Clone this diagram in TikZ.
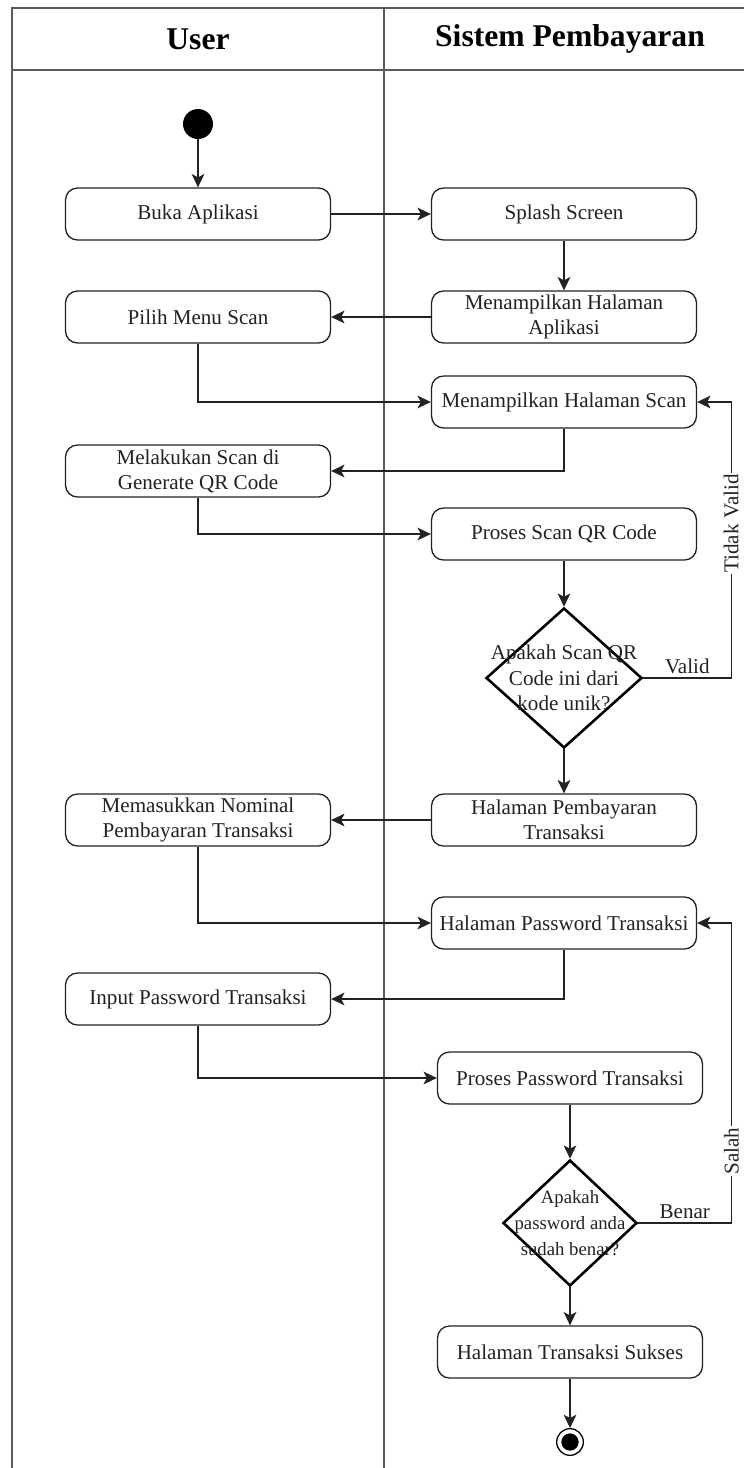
\documentclass[tikz,border=0pt]{standalone}
\usepackage{fontspec}
\setmainfont{Liberation Serif}
\usepackage{xcolor}
\usepackage{tikz}
\usetikzlibrary{arrows.meta,positioning,shapes.geometric}
\definecolor{ink}{HTML}{222222}
\definecolor{lanegray}{HTML}{5A5A5A}
\newcommand{\txt}{\fontsize{18}{21.5}\selectfont}
\tikzset{
  act/.style   = {rounded corners=3.6mm, draw=ink, line width=1.1pt, fill=white, align=center,
                  minimum width=79.5mm, minimum height=15.6mm, inner sep=2pt, text=ink, font=\txt},
  dec/.style   = {diamond, draw=black, line width=2.2pt, fill=white, inner sep=0pt},
  ar/.style    = {-{Stealth[length=4mm,width=3.8mm,inset=1mm]}, line width=1pt, draw=ink},
  lbl/.style   = {font=\txt, text=ink},
  lane/.style  = {draw=lanegray, line width=1.6pt},
  head/.style  = {font=\fontsize{27}{30}\selectfont\bfseries, text=black},
  startnode/.style = {circle, fill=black, minimum size=9mm, inner sep=0pt},
  finalnode/.style = {circle, draw=black, line width=1.1pt, fill=white, minimum size=8mm, inner sep=0pt,
                  path picture={\fill[black] (path picture bounding box.center) circle (2.6mm);}},
}
\begin{document}
\begin{tikzpicture}[x=0.3mm, y=-0.3mm]
  \useasboundingbox (0,0) rectangle (744,1468);
  \draw[lane] (12,1468) -- (12,8) -- (744,8);
  \draw[lane] (12,70) -- (744,70);
  \draw[lane] (384,8) -- (384,1468);
  \node[head] (huser) at (198,39) {User};
  \node[head] (hsys)  at (570,39) {Sistem Pembayaran};

  \node[startnode] (start) at (198,124) {};
  \node[act] (buka)    at (198,214) {Buka Aplikasi};
  \node[act] (splash)  at (564,214) {Splash Screen};
  \node[act] (tampil)  at (564,317) {Menampilkan Halaman\\Aplikasi};
  \node[act] (pilih)   at (198,317) {Pilih Menu Scan};
  \node[act] (hscan)   at (564,402) {Menampilkan Halaman Scan};
  \node[act] (scanqr)  at (198,471) {Melakukan Scan di\\Generate QR Code};
  \node[act] (proses)  at (564,534) {Proses Scan QR Code};
  \node[dec, minimum width=46.8mm, minimum height=42mm,
        label={[lbl, align=center]center:Apakah Scan QR\\Code ini dari\\kode unik?}] (cek) at (564,678) {};
  \node[act] (bayar)   at (564,820) {Halaman Pembayaran\\Transaksi};
  \node[act] (nominal) at (198,820) {Memasukkan Nominal\\Pembayaran Transaksi};
  \node[act] (hpass)   at (564,923) {Halaman Password Transaksi};
  \node[act] (inpass)  at (198,999) {Input Password Transaksi};
  \node[act] (prpass)  at (570,1078) {Proses Password Transaksi};
  \node[dec, minimum width=40.2mm, minimum height=37.8mm,
        label={[lbl, align=center, font=\fontsize{16}{22}\selectfont]center:Apakah\\password anda\\sudah benar?}] (cekpass) at (570,1223) {};
  \node[act] (sukses)  at (570,1352) {Halaman Transaksi Sukses};
  \node[finalnode] (selesai) at (570,1442) {};

  \draw[ar] (start) -- (buka);
  \draw[ar] (buka) -- (splash);
  \draw[ar] (splash) -- (tampil);
  \draw[ar] (tampil) -- (pilih);
  \draw[ar] (pilih.south) |- (hscan.west);
  \draw[ar] (hscan.south) |- (scanqr.east);
  \draw[ar] (scanqr.south) |- (proses.west);
  \draw[ar] (proses) -- (cek);
  \draw[ar] (cek.east) -- node[lbl, above]{Valid} ++(88,0)
        |- node[lbl, pos=0.28, rotate=90, fill=white, inner sep=1pt]{Tidak Valid} (hscan.east);
  \draw[ar] (cek) -- (bayar);
  \draw[ar] (bayar) -- (nominal);
  \draw[ar] (nominal.south) |- (hpass.west);
  \draw[ar] (hpass.south) |- (inpass.east);
  \draw[ar] (inpass.south) |- (prpass.west);
  \draw[ar] (prpass) -- (cekpass);
  \draw[ar] (cekpass.east) -- node[lbl, above]{Benar} ++(93,0)
        |- node[lbl, pos=0.12, rotate=90, fill=white, inner sep=1pt]{Salah} (hpass.east);
  \draw[ar] (cekpass) -- (sukses);
  \draw[ar] (sukses) -- (selesai);
\end{tikzpicture}
\end{document}
